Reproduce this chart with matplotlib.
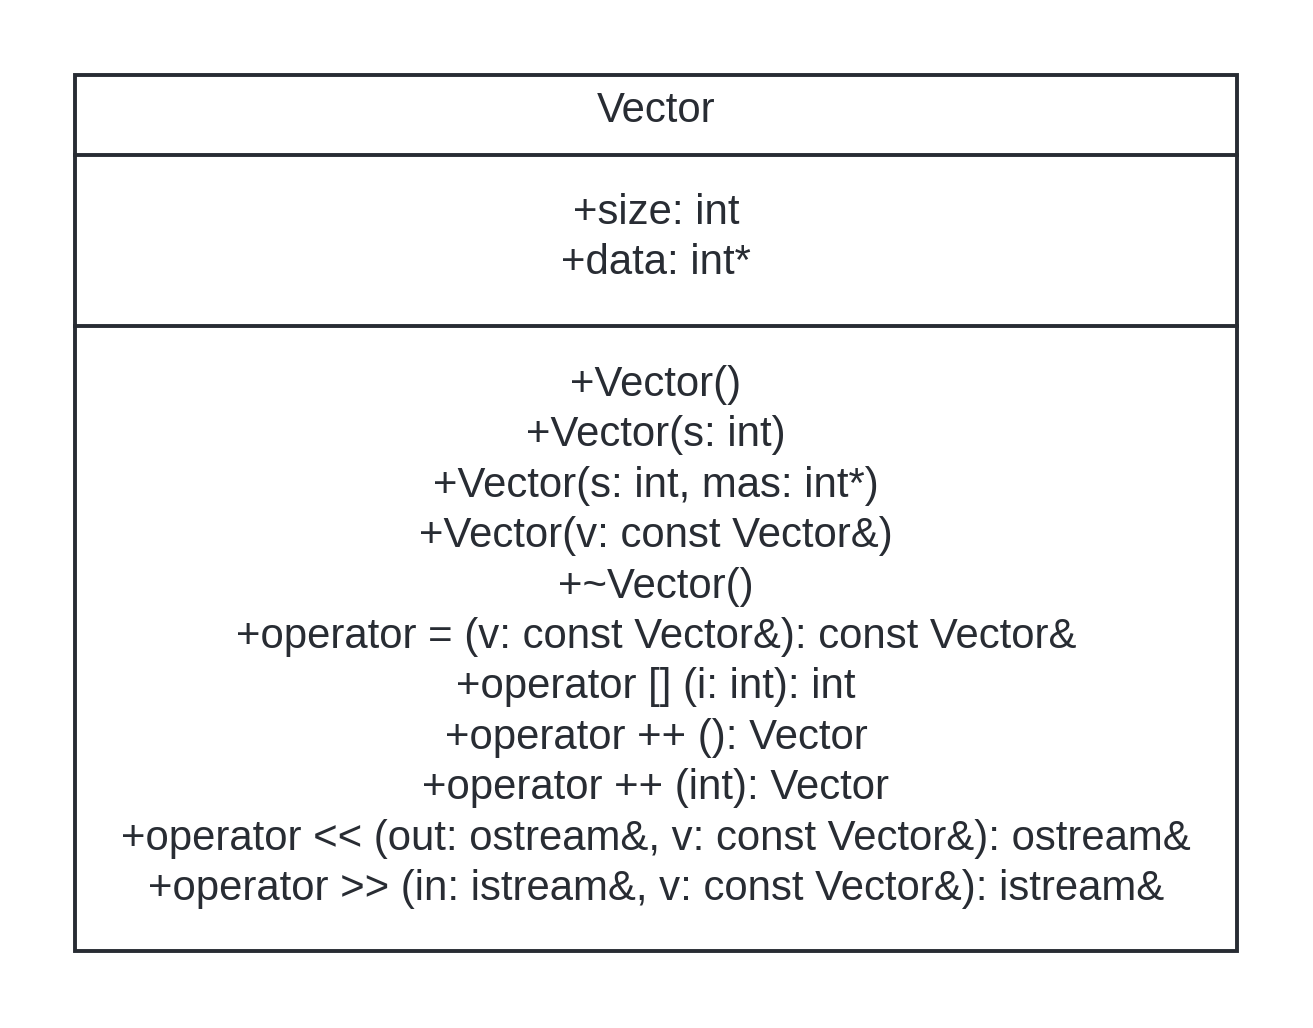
import matplotlib.pyplot as plt
from matplotlib.patches import Rectangle

plt.rcParams['font.family'] = ['Liberation Sans', 'DejaVu Sans']

class_name = "Vector"
attributes = ["+size: int", "+data: int*"]
methods = [
    "+Vector()",
    "+Vector(s: int)",
    "+Vector(s: int, mas: int*)",
    "+Vector(v: const Vector&)",
    "+~Vector()",
    "+operator = (v: const Vector&): const Vector&",
    "+operator [] (i: int): int",
    "+operator ++ (): Vector",
    "+operator ++ (int): Vector",
    "+operator << (out: ostream&, v: const Vector&): ostream&",
    "+operator >> (in: istream&, v: const Vector&): istream&",
]

W, H = 1313, 1028
fig = plt.figure(figsize=(W / 100, H / 100), dpi=100)
ax = fig.add_axes([0, 0, 1, 1])
ax.set_xlim(0, W)
ax.set_ylim(H, 0)
ax.axis('off')

col = '#282c33'
left, right, top, bottom = 75, 1237, 75, 951
ax.add_patch(Rectangle((left, top), right - left, bottom - top, fill=False, lw=2.8, ec=col))
for y in (155, 326):
    ax.plot([left, right], [y, y], color=col, lw=2.8)

cx = (left + right) / 2
fs = 30.2
ax.text(cx, 111, class_name, ha='center', va='center', fontsize=fs, color=col)
for i, a in enumerate(attributes):
    ax.text(cx, 213 + i * 50.4, a, ha='center', va='center', fontsize=fs, color=col)
for i, m in enumerate(methods):
    ax.text(cx, 385 + i * 50.4, m, ha='center', va='center', fontsize=fs, color=col)

fig.savefig('out.png', dpi=100, facecolor='white')
